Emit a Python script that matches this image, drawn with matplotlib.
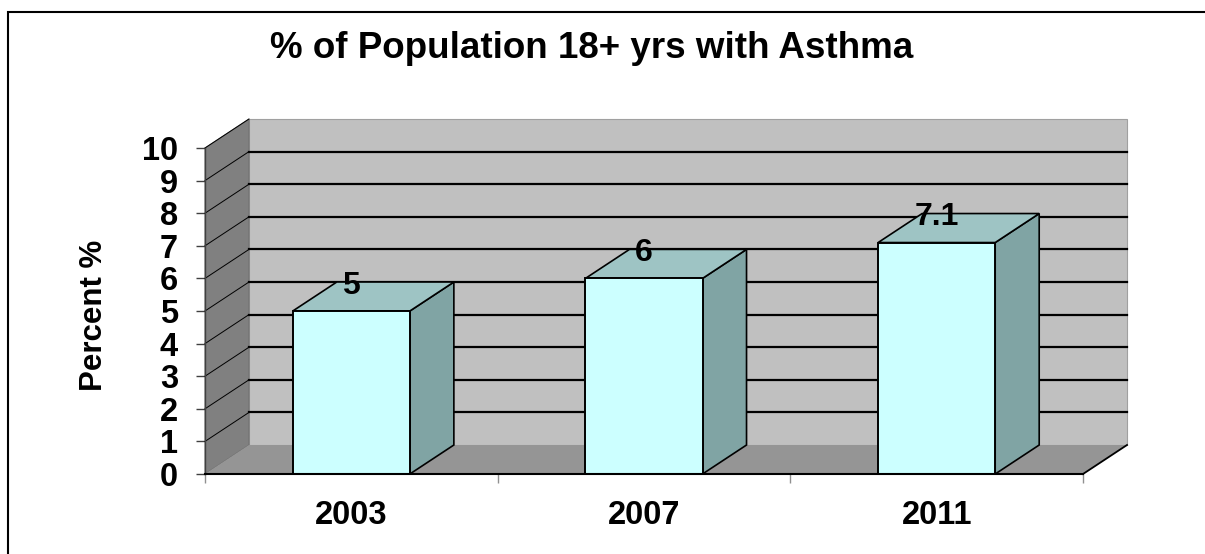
import matplotlib
matplotlib.use('Agg')
import matplotlib.pyplot as plt
from matplotlib.patches import Polygon, Rectangle

plt.rcParams['font.family'] = ['Liberation Sans', 'DejaVu Sans']
plt.rcParams['font.weight'] = 'bold'

# asthma prevalence, adults 18+
years = ['2003', '2007', '2011']
percent = [5, 6, 7.1]
y_ticks = list(range(0, 11))

W, H = 1205, 554
fig = plt.figure(figsize=(W / 100, H / 100), dpi=100)
fig.patch.set_facecolor('white')

# front plane of the plot: x 205..1083 px, y 474..148 px
ax = fig.add_axes([205 / W, (H - 474) / H, 878 / W, 326 / H])
ax.set_xlim(-0.5, 2.5)
ax.set_ylim(0, 10)
ax.set_facecolor('none')

# depth offset of the 3D box in data units
dx = 44 / (878 / 3)
dy = 29 / 32.6
x0, x1 = -0.5, 2.5
ytop = y_ticks[-1]

wall = '#C0C0C0'
side = '#808080'
floor = '#959595'

# back wall
ax.add_patch(Polygon([(x0 + dx, dy), (x1 + dx, dy), (x1 + dx, ytop + dy), (x0 + dx, ytop + dy)],
                     closed=True, facecolor=wall, edgecolor='#A0A0A0', lw=0.8, clip_on=False, zorder=1))
# left side wall
ax.add_patch(Polygon([(x0, 0), (x0 + dx, dy), (x0 + dx, ytop + dy), (x0, ytop)],
                     closed=True, facecolor=side, edgecolor='#707070', lw=0.8, clip_on=False, zorder=1))
# floor
ax.add_patch(Polygon([(x0, 0), (x1, 0), (x1 + dx, dy), (x0 + dx, dy)],
                     closed=True, facecolor=floor, edgecolor='none', clip_on=False, zorder=1))
ax.plot([x1, x1 + dx], [0, dy], color='black', lw=1.3, clip_on=False, zorder=2)
ax.plot([x0, x1], [0, 0], color='black', lw=1.5, clip_on=False, zorder=5)

# gridlines on back wall and side wall
for t in y_ticks[1:-1]:
    ax.plot([x0 + dx, x1 + dx], [t + dy, t + dy], color='black', lw=1.6, clip_on=False, zorder=2)
for t in y_ticks[1:]:
    ax.plot([x0, x0 + dx], [t, t + dy], color='black', lw=0.7, clip_on=False, zorder=2)

# 3D bars
bw = 0.4
front_c = '#CCFFFF'
top_c = '#9EC4C4'
right_c = '#80A4A4'
for i, v in enumerate(percent):
    l, r = i - bw / 2, i + bw / 2
    ax.add_patch(Polygon([(r, 0), (r + dx, dy), (r + dx, v + dy), (r, v)], closed=True,
                         facecolor=right_c, edgecolor='black', lw=1.2, clip_on=False, zorder=3))
    ax.add_patch(Polygon([(l, v), (r, v), (r + dx, v + dy), (l + dx, v + dy)], closed=True,
                         facecolor=top_c, edgecolor='black', lw=1.2, clip_on=False, zorder=3))
    ax.add_patch(Rectangle((l, 0), bw, v, facecolor=front_c, edgecolor='black', lw=1.4,
                           clip_on=False, zorder=4))
    ax.text(i, v + dy, f'{v:g}', ha='center', va='center_baseline', fontsize=23,
            fontweight='bold', zorder=6)

# axes and ticks
for s in ['top', 'right', 'bottom']:
    ax.spines[s].set_visible(False)
ax.spines['left'].set_color('#404040')
ax.spines['left'].set_linewidth(1.0)

ax.set_yticks(y_ticks)
ax.set_yticklabels([str(t) for t in y_ticks])
ax.tick_params(axis='y', direction='out', length=6.5, width=1.0, color='#404040',
               pad=13, labelsize=23.5)

ax.set_xticks(range(len(years)))
ax.set_xticklabels(years)
ax.set_xticks([-0.5, 0.5, 1.5, 2.5], minor=True)
ax.tick_params(axis='x', which='major', length=0, pad=19, labelsize=23.5)
ax.tick_params(axis='x', which='minor', direction='out', length=6.5, width=1.0, color='#909090')
for lab in ax.get_xticklabels() + ax.get_yticklabels():
    lab.set_fontweight('bold')

fig.text(94 / W, 1 - 315 / H, 'Percent %', rotation=90, ha='center', va='center',
         fontsize=22.5, fontweight='bold')
fig.text(592 / W, 1 - 49 / H, '% of Population 18+ yrs with Asthma', ha='center', va='center',
         fontsize=26.5, fontweight='bold')

# chart border (runs off the right and bottom edges)
fig.patches.append(Rectangle((8 / W, -0.1), 1.2, 1 - 12 / H + 0.1, transform=fig.transFigure,
                             fill=False, edgecolor='black', lw=1.5))

fig.savefig('out.png', dpi=100)
